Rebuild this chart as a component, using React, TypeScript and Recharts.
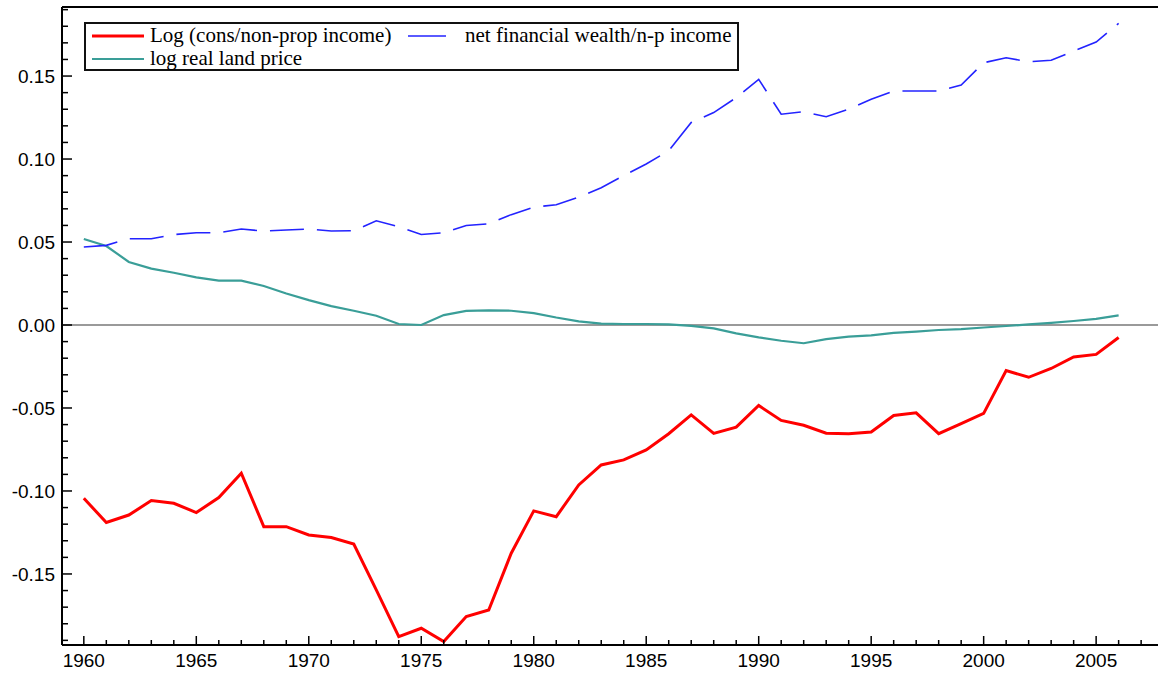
import { LineChart, Line, XAxis, YAxis, ReferenceLine, Legend } from 'recharts'

const years = [
  1960, 1961, 1962, 1963, 1964, 1965, 1966, 1967, 1968, 1969,
  1970, 1971, 1972, 1973, 1974, 1975, 1976, 1977, 1978, 1979,
  1980, 1981, 1982, 1983, 1984, 1985, 1986, 1987, 1988, 1989,
  1990, 1991, 1992, 1993, 1994, 1995, 1996, 1997, 1998, 1999,
  2000, 2001, 2002, 2003, 2004, 2005, 2006,
]

// Log (cons/non-prop income)
const consIncome = [
  -0.1044, -0.119, -0.1145, -0.1058, -0.1074, -0.113, -0.104, -0.0893, -0.1215, -0.1215,
  -0.1265, -0.128, -0.132, -0.1596, -0.1877, -0.1827, -0.1907, -0.1757, -0.1717, -0.1375,
  -0.112, -0.1155, -0.0964, -0.0843, -0.0813, -0.0753, -0.0655, -0.0542, -0.0653, -0.0615,
  -0.0485, -0.0575, -0.0604, -0.0652, -0.0655, -0.0645, -0.0545, -0.0529, -0.0655, -0.0594,
  -0.0533, -0.0274, -0.0315, -0.0262, -0.0193, -0.0177, -0.0075,
]

// net financial wealth/n-p income
const netWealth = [
  0.047, 0.048, 0.052, 0.052, 0.0545, 0.0556, 0.0556, 0.0578, 0.0566, 0.0572,
  0.0578, 0.0566, 0.0568, 0.0628, 0.0592, 0.0545, 0.0556, 0.06, 0.061, 0.0665,
  0.071, 0.0725, 0.077, 0.0827, 0.09, 0.097, 0.105, 0.122, 0.128, 0.137,
  0.148, 0.127, 0.1285, 0.1255, 0.13, 0.136, 0.141, 0.141, 0.141, 0.1446,
  0.158, 0.161, 0.1586, 0.1595, 0.165, 0.1705, 0.1817,
]

// log real land price
const landPrice = [
  0.0518, 0.0476, 0.038, 0.034, 0.0315, 0.0287, 0.0267, 0.0267, 0.0235, 0.019,
  0.015, 0.0114, 0.0086, 0.0056, 0.0006, 0.0, 0.006, 0.0085, 0.0088, 0.0086,
  0.0072, 0.0045, 0.0022, 0.0008, 0.0006, 0.0006, 0.0004, -0.0005, -0.002, -0.005,
  -0.0075, -0.0095, -0.011, -0.0085, -0.007, -0.0062, -0.0048, -0.004, -0.003, -0.0025,
  -0.0015, -0.0006, 0.0004, 0.0013, 0.0024, 0.0037, 0.0058,
]

const xTicks = [
  1960, 1961, 1962, 1963, 1964, 1965, 1966, 1967, 1968, 1969,
  1970, 1971, 1972, 1973, 1974, 1975, 1976, 1977, 1978, 1979,
  1980, 1981, 1982, 1983, 1984, 1985, 1986, 1987, 1988, 1989,
  1990, 1991, 1992, 1993, 1994, 1995, 1996, 1997, 1998, 1999,
  2000, 2001, 2002, 2003, 2004, 2005, 2006, 2007,
]

const yTicks = [
  -0.19, -0.18, -0.17, -0.16, -0.15, -0.14, -0.13, -0.12, -0.11, -0.1,
  -0.09, -0.08, -0.07, -0.06, -0.05, -0.04, -0.03, -0.02, -0.01, 0,
  0.01, 0.02, 0.03, 0.04, 0.05, 0.06, 0.07, 0.08, 0.09, 0.1,
  0.11, 0.12, 0.13, 0.14, 0.15, 0.16, 0.17, 0.18, 0.19,
]

const X_DOMAIN: [number, number] = [1959.03, 2007.75]
const Y_DOMAIN: [number, number] = [-0.1928, 0.1916]

const RED = '#ff0000'
const BLUE = '#2323ff'
const TEAL = '#3a9e98'
const AXIS_FONT = '"Liberation Sans", Arial, sans-serif'
const LEGEND_FONT = '"Liberation Serif", "Times New Roman", serif'

const data = years.map((year, i) => ({
  year,
  cons: consIncome[i],
  wealth: netWealth[i],
  land: landPrice[i],
}))

function XTick({ x, y, payload }: any) {
  const major = payload.value % 5 === 0
  return (
    <g>
      <line x1={x} x2={x} y1={y} y2={y - (major ? 9 : 5)} stroke="#000" strokeWidth={1.5} />
      {major && (
        <text x={x} y={y + 22} textAnchor="middle" fontSize={19} fontFamily={AXIS_FONT} fill="#000">
          {payload.value}
        </text>
      )}
    </g>
  )
}

function YTick({ x, y, payload }: any) {
  const major = Math.round(payload.value * 100) % 5 === 0
  return (
    <g>
      <line x1={x} x2={x + (major ? 10 : 6)} y1={y} y2={y} stroke="#000" strokeWidth={1.5} />
      {major && (
        <text x={x - 7} y={y + 7} textAnchor="end" fontSize={19} fontFamily={AXIS_FONT} fill="#000">
          {payload.value.toFixed(2)}
        </text>
      )}
    </g>
  )
}

function LegendBox() {
  const sample = (color: string, w: number) => (
    <svg width={52} height={8} style={{ display: 'block' }}>
      <line x1={0} x2={52} y1={4} y2={4} stroke={color} strokeWidth={w} />
    </svg>
  )
  const row = { position: 'absolute' as const, display: 'flex', alignItems: 'center', height: 23, whiteSpace: 'nowrap' as const }
  const label = { fontFamily: LEGEND_FONT, fontSize: 21, color: '#000', marginLeft: 6, lineHeight: '23px' }
  return (
    <div style={{ position: 'relative', width: 655, height: 49, boxSizing: 'border-box', border: '2px solid #111', background: '#fff' }}>
      <div style={{ ...row, left: 6, top: 0 }}>
        {sample(RED, 3)}
        <span style={label}>Log (cons/non-prop income)</span>
      </div>
      <div style={{ ...row, left: 322, top: 0 }}>
        <svg width={38} height={8} style={{ display: 'block' }}>
          <line x1={0} x2={38} y1={4} y2={4} stroke={BLUE} strokeWidth={1.6} />
        </svg>
        <span style={{ ...label, marginLeft: 19 }}>net financial wealth/n-p income</span>
      </div>
      <div style={{ ...row, left: 6, top: 23 }}>
        {sample(TEAL, 2.2)}
        <span style={label}>log real land price</span>
      </div>
    </div>
  )
}

export default function App() {
  return (
    <div style={{ position: 'absolute', left: 0, top: 0, width: 1158, height: 673, background: '#fff' }}>
      <LineChart width={1158} height={673} data={data} margin={{ top: 7, right: 0, bottom: 0, left: 0 }}>
        <XAxis
          dataKey="year"
          type="number"
          domain={X_DOMAIN}
          allowDataOverflow
          ticks={xTicks}
          interval={0}
          tickSize={0}
          tickMargin={0}
          tick={<XTick />}
          height={28}
          axisLine={{ stroke: '#000', strokeWidth: 2 }}
        />
        <YAxis
          type="number"
          domain={Y_DOMAIN}
          allowDataOverflow
          ticks={yTicks}
          interval={0}
          tickSize={0}
          tickMargin={0}
          tick={<YTick />}
          width={62}
          axisLine={{ stroke: '#000', strokeWidth: 2 }}
        />
        <ReferenceLine y={0} stroke="#9a9a9a" strokeWidth={2} />
        <ReferenceLine y={Y_DOMAIN[1]} stroke="#000" strokeWidth={2} />
        <Line type="linear" dataKey="land" stroke={TEAL} strokeWidth={2.2} dot={false} isAnimationActive={false} />
        <Line type="linear" dataKey="wealth" stroke={BLUE} strokeWidth={1.6} strokeDasharray="34 13" dot={false} isAnimationActive={false} />
        <Line type="linear" dataKey="cons" stroke={RED} strokeWidth={3} dot={false} isAnimationActive={false} />
        <Legend
          verticalAlign="middle"
          align="center"
          content={<LegendBox />}
          wrapperStyle={{ left: 84, top: 22, width: 655, height: 49 }}
        />
      </LineChart>
    </div>
  )
}
